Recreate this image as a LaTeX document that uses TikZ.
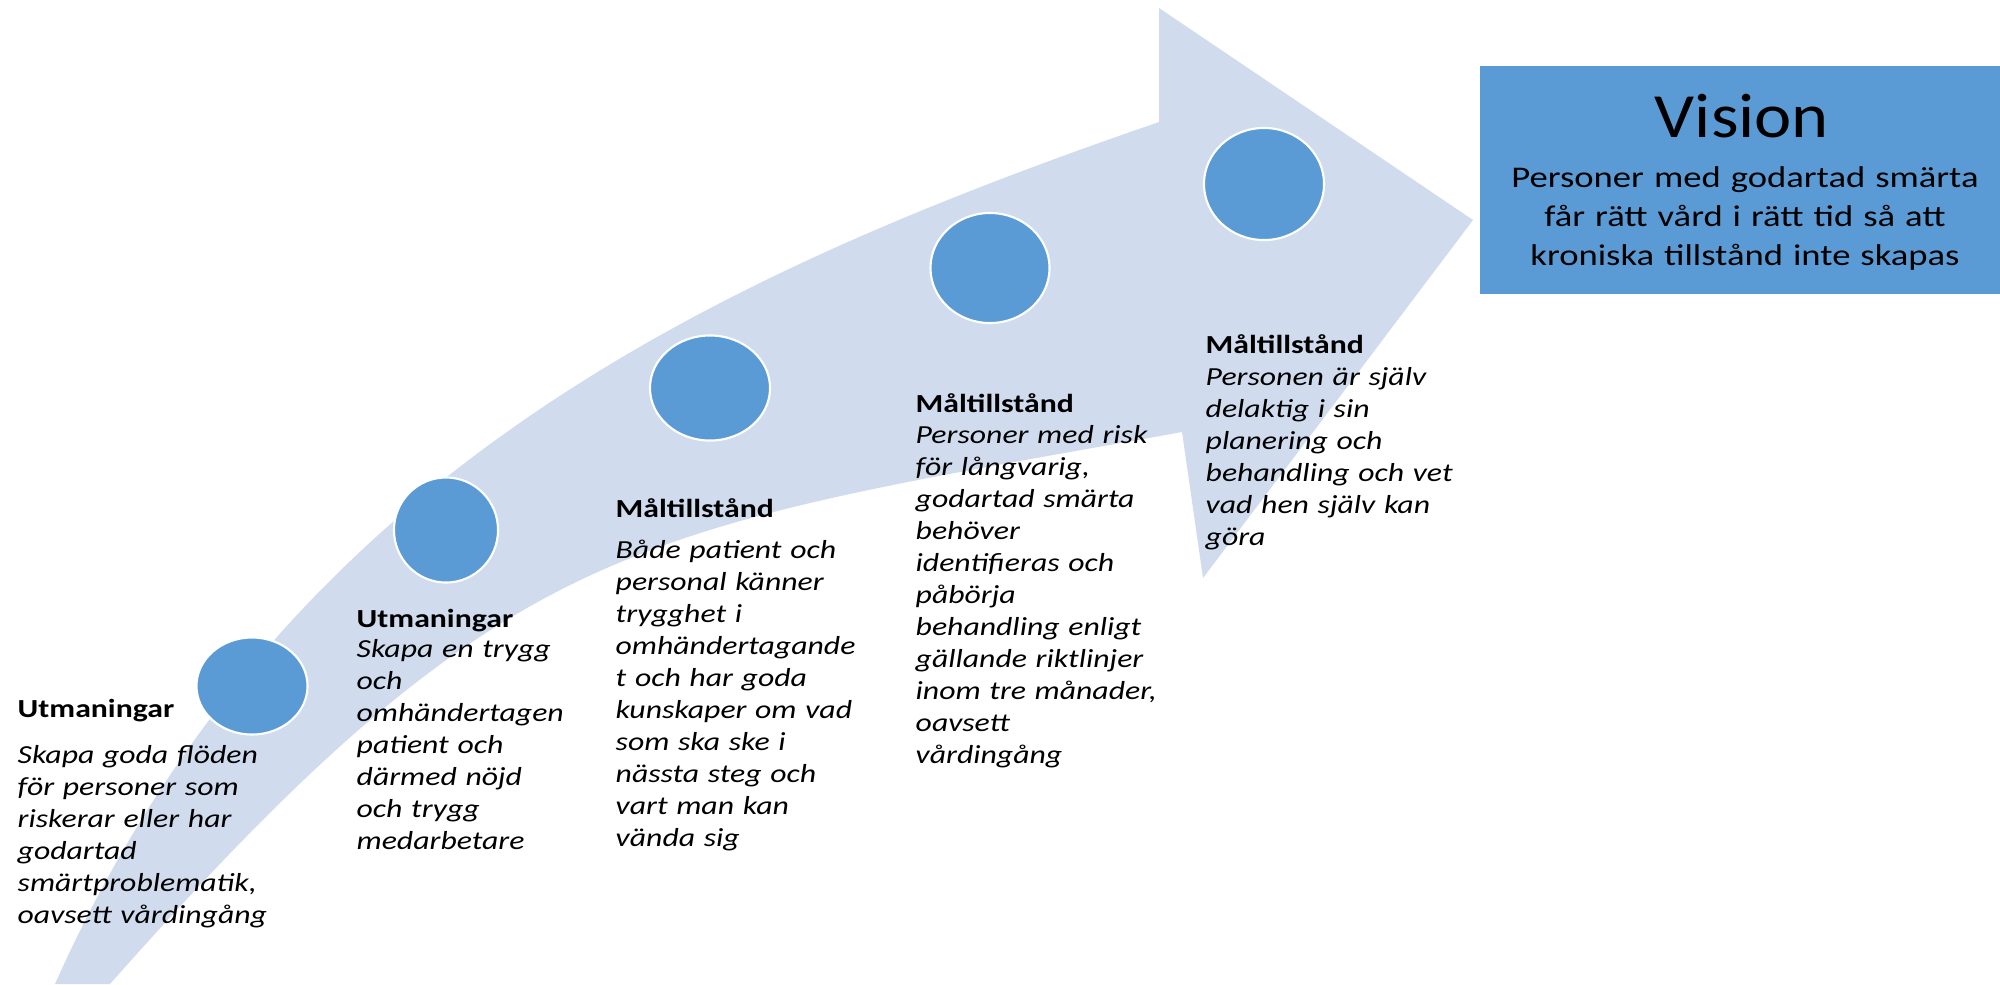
\documentclass[tikz,border=0pt]{standalone}
\usepackage{fontspec}
\setmainfont{Carlito}
\newfontfamily\bodyfont{Carlito}[FakeStretch=1.22]
\newfontfamily\titlefont{Carlito}[FakeStretch=1.12]
\usetikzlibrary{shapes.geometric}
\definecolor{bandblue}{RGB}{208,220,238}
\definecolor{dotblue}{RGB}{91,155,213}
\begin{document}
\begin{tikzpicture}[x=0.01cm, y=-0.01cm,
  stepdot/.style={ellipse, fill=dotblue, draw=white, line width=0.6pt, inner sep=0pt},
  hdr/.style={anchor=base west, inner sep=0pt, font=\bodyfont\bfseries\fontsize{7.4pt}{9.1pt}\selectfont},
  bodytxt/.style={anchor=base west, inner sep=0pt, align=left, text width=4cm, font=\bodyfont\itshape\fontsize{7.4pt}{9.1pt}\selectfont},
]
\useasboundingbox (0,0) rectangle (2000,984);
\fill[white] (0,0) rectangle (2000,984);

% curved arrow band
\fill[bandblue] (55,984) .. controls (280,480) and (700,280) .. (1159,122)
  -- (1159,8) -- (1473,220) -- (1203,578) -- (1182,432)
  .. controls (632,531) and (510,532) .. (110,984)
  -- cycle;

% circles
\node[stepdot, minimum width=1.11cm, minimum height=0.97cm] (c1) at (252,686) {};
\node[stepdot, minimum width=1.04cm, minimum height=1.05cm] (c2) at (446,530) {};
\node[stepdot, minimum width=1.20cm, minimum height=1.05cm] (c3) at (710,388) {};
\node[stepdot, minimum width=1.19cm, minimum height=1.10cm] (c4) at (990,268) {};
\node[stepdot, minimum width=1.20cm, minimum height=1.12cm] (c5) at (1264,184) {};

% vision box
\node[fill=dotblue, inner sep=0pt, minimum width=5.21cm, minimum height=2.28cm, anchor=north west] (vbox) at (1479,65) {};
\node[anchor=base, inner sep=0pt, font=\titlefont\fontsize{17.9pt}{20pt}\selectfont] (vtitle) at (1742,137) {Vision};
\node[anchor=base, inner sep=0pt, align=center, text width=5.2cm, font=\bodyfont\fontsize{8.54pt}{11.1pt}\selectfont] (vtext) at (1745,187)
  {Personer med godartad smärta\\får rätt vård i rätt tid så att\\kroniska tillstånd inte skapas};

% text blocks
\node[hdr] (h1) at (17,717) {Utmaningar};
\node[bodytxt] (b1) at (17,763) {Skapa goda flöden\\för personer som\\riskerar eller har\\godartad\\smärtproblematik,\\oavsett vårdingång};

\node[hdr] (h2) at (356,627) {Utmaningar};
\node[bodytxt] (b2) at (356,657) {Skapa en trygg\\och\\omhändertagen\\patient och\\därmed nöjd\\och trygg\\medarbetare};

\node[hdr] (h3) at (615,517) {Måltillstånd};
\node[bodytxt] (b3) at (615,558) {Både patient och\\personal känner\\trygghet i\\omhändertagande\\t och har goda\\kunskaper om vad\\som ska ske i\\nässta steg och\\vart man kan\\vända sig};

\node[hdr] (h4) at (915,412) {Måltillstånd};
\node[bodytxt] (b4) at (915,443) {Personer med risk\\för långvarig,\\godartad smärta\\behöver\\identifieras och\\påbörja\\behandling enligt\\gällande riktlinjer\\inom tre månader,\\oavsett\\vårdingång};

\node[hdr] (h5) at (1205,353) {Måltillstånd};
\node[bodytxt] (b5) at (1205,385) {Personen är själv\\delaktig i sin\\planering och\\behandling och vet\\vad hen själv kan\\göra};
\end{tikzpicture}
\end{document}
